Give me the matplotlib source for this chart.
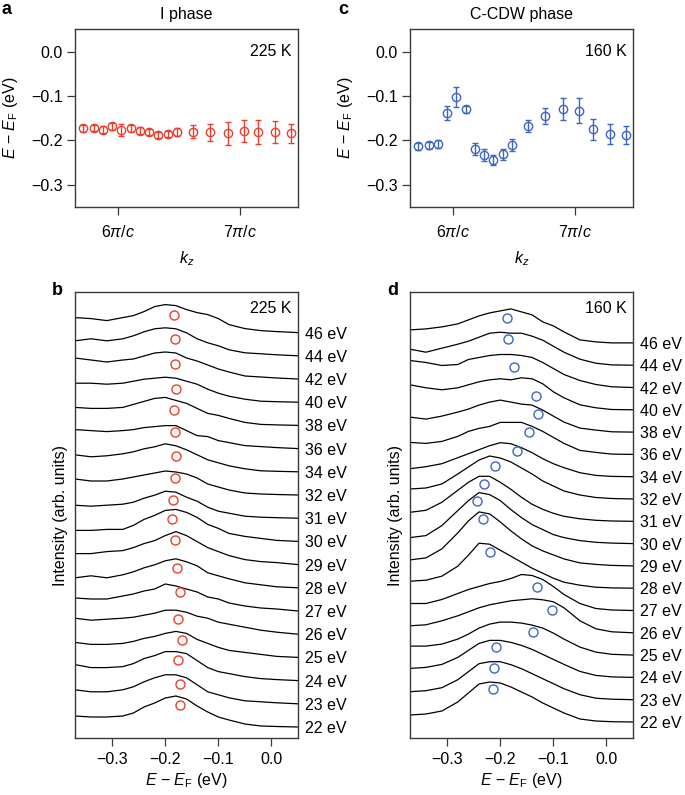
import numpy as np
import matplotlib
matplotlib.use('Agg')
import matplotlib.pyplot as plt
import matplotlib.transforms as mtransforms

plt.rcParams['font.family'] = ['Liberation Sans', 'DejaVu Sans']
plt.rcParams['mathtext.fontset'] = 'custom'
plt.rcParams['mathtext.rm'] = 'Liberation Sans'
plt.rcParams['mathtext.it'] = 'Liberation Sans:italic'
plt.rcParams['mathtext.bf'] = 'Liberation Sans:bold'
plt.rcParams['font.size'] = 11.5

# photon energies (eV), bottom curve first
energies = [22, 23, 24, 25, 26, 27, 28, 29, 30, 31, 32, 34, 36, 38, 40, 42, 44, 46]
# kz in units of pi/c
kz = [5.717, 5.801, 5.878, 5.956, 6.029, 6.108, 6.182, 6.258, 6.331,
      6.405, 6.481, 6.617, 6.755, 6.897, 7.028, 7.147, 7.283, 7.416]

# peak positions (eV) and errors, I phase 225 K
peak_I = [-0.173, -0.172, -0.176, -0.168, -0.176, -0.173, -0.178, -0.181, -0.187,
          -0.185, -0.181, -0.180, -0.182, -0.184, -0.179, -0.182, -0.181, -0.184]
err_I = [0.007, 0.007, 0.008, 0.008, 0.013, 0.008, 0.008, 0.006, 0.007,
         0.007, 0.010, 0.014, 0.020, 0.026, 0.024, 0.027, 0.024, 0.021]

# peak positions (eV) and errors, C-CDW phase 160 K
peak_C = [-0.213, -0.211, -0.208, -0.139, -0.102, -0.130, -0.219, -0.233, -0.244,
          -0.231, -0.210, -0.168, -0.145, -0.129, -0.133, -0.175, -0.185, -0.188]
err_C = [0.008, 0.008, 0.010, 0.016, 0.022, 0.008, 0.014, 0.014, 0.011,
         0.012, 0.014, 0.013, 0.018, 0.025, 0.028, 0.024, 0.022, 0.021]

# energy axis of the EDCs
E_grid = [-0.37, -0.34, -0.31, -0.28, -0.26, -0.24, -0.22, -0.20, -0.18,
          -0.16, -0.14, -0.12, -0.10, -0.08, -0.05, -0.02, 0.01, 0.05]

# EDC intensities (arb. units), 225 K, one row per photon energy
edc_I = [
    [11, 10, 10, 11, 14, 20, 24, 29, 31, 28, 21, 15, 10, 7, 3, 1, 0.5, 0],
    [14, 12, 12, 14, 17, 22, 26, 29, 29, 26, 19, 12, 9, 6, 3, 2, 1, 0],
    [16, 13, 13, 14, 17, 22, 25, 29, 29, 27, 20, 13, 9, 7, 4, 2, 1, 0],
    [15, 13, 13, 14, 16, 19, 21, 24, 26, 24, 18, 14, 10, 7, 5, 3, 1, 0],
    [16, 14, 15, 16, 17, 19, 21, 24, 24, 22, 18, 16, 12, 10, 7, 4, 2, 0],
    [13, 12, 12, 15, 17, 20, 22, 27, 25, 22, 19, 14, 12, 8, 5, 3, 2, 0],
    [10, 12, 10, 13, 16, 20, 23, 27, 29, 26, 22, 15, 12, 9, 5, 3, 1, 0],
    [11, 11, 13, 14, 17, 21, 24, 29, 33, 29, 23, 17, 13, 9, 5, 3, 2, 0],
    [11, 11, 12, 12, 16, 22, 26, 31, 32, 29, 24, 17, 13, 8, 5, 3, 1, 0],
    [13, 12, 13, 14, 16, 20, 23, 27, 26, 21, 17, 11, 7, 5, 2, 1, 0.5, 0],
    [16, 14, 14, 16, 18, 20, 22, 24, 23, 21, 17, 11, 8, 5, 2, 1, 0.5, 0],
    [17, 15, 16, 18, 20, 23, 25, 28, 26, 22, 17, 12, 9, 6, 3, 1, 0.5, 0],
    [19, 18, 17, 18, 19, 21, 22, 23, 23, 18, 13, 12, 8, 6, 3, 2, 1, 0],
    [18, 17, 17, 18, 21, 24, 27, 28, 25, 22, 17, 12, 10, 7, 3, 1, 0.5, 0],
    [19, 19, 18, 19, 21, 23, 24, 25, 24, 21, 18, 13, 9, 6, 3, 1, 0.5, 0],
    [21, 19, 17, 19, 20, 23, 26, 27, 26, 21, 18, 14, 10, 7, 3, 2, 1, 0],
    [15, 17, 15, 17, 20, 24, 27, 28, 27, 23, 17, 13, 10, 6, 3, 2, 1, 0],
    [15, 14, 12, 15, 17, 21, 26, 28, 27, 23, 20, 18, 14, 8, 4, 2, 1, 0],
]

# EDC intensities (arb. units), 160 K
edc_C = [
    [7, 8, 11, 20, 29, 38, 40, 39, 35, 30, 25, 19, 14, 9, 3, 1, 0.3, 0],
    [8, 9, 12, 20, 28, 36, 38, 38, 35, 31, 26, 21, 16, 11, 5, 1.5, 0.5, 0],
    [9, 10, 13, 20, 27, 34, 37, 37, 35, 32, 28, 23, 18, 13, 6, 2, 0.5, 0],
    [9, 9, 11, 16, 21, 27, 31, 33, 33, 32, 30, 27, 22, 16, 8, 3, 0.8, 0],
    [7, 8, 12, 17, 21, 25, 28, 30, 32, 33, 34, 33, 31, 25, 12, 4, 1, 0],
    [7, 7, 11, 17, 21, 24, 27, 29, 32, 36, 35, 31, 24, 16, 7, 2, 0.5, 0],
    [7, 8, 12, 22, 33, 45, 44, 38, 32, 26, 20, 15, 10, 6, 3, 1, 0.3, 0],
    [6, 8, 17, 33, 45, 54, 52, 44, 35, 27, 20, 15, 11, 7, 3, 1.5, 0.5, 0],
    [6, 8, 18, 33, 43, 51, 49, 43, 34, 26, 19, 14, 9, 6, 3, 1.3, 0.5, 0],
    [9, 11, 19, 31, 39, 45, 45, 39, 32, 24, 17, 12, 8, 5, 2.5, 1, 0.3, 0],
    [10, 11, 15, 25, 32, 39, 43, 41, 37, 31, 25, 18, 13, 8, 4, 1.5, 0.5, 0],
    [8, 10, 13, 19, 23, 27, 31, 34, 33, 29, 24, 18, 13, 9, 4, 1.3, 0.3, 0],
    [12, 11, 13, 18, 23, 26, 28, 32, 32, 32, 28, 23, 17, 11, 4, 2, 0.3, 0],
    [15, 13, 16, 20, 23, 27, 30, 32, 30, 28, 27, 22, 16, 10, 4, 2, 0.3, 0],
    [25, 22, 20, 22, 25, 28, 30, 31, 30, 32, 31, 26, 18, 12, 5, 2, 0.3, 0],
    [27, 25, 22, 23, 28, 30, 32, 33, 33, 32, 30, 25, 19, 13, 7, 3, 0.7, 0],
    [16, 13, 17, 21, 24, 28, 32, 33, 32, 32, 29, 25, 19, 13, 6, 2, 0.3, 0],
    [13, 14, 16, 19, 23, 27, 30, 32, 34, 31, 28, 21, 17, 11, 3, 1, 0, 0],
]

# height of the peak markers above each curve's baseline
mark_I = [22.3, 20.3, 20.3, 17, 15.3, 18.7, 19.7, 24.3, 22,
          18.3, 17.3, 16, 16.3, 15.7, 13.7, 15.3, 16.7, 17.7]
mark_C = [33.3, 32, 30.3, 23, 23.3, 23.3, 36.7, 46.7, 42.3,
          37, 32.7, 25.7, 22.3, 17.7, 13.7, 20.7, 26.3, 25]

red = '#e8402f'
blue = '#3d66c2'
spine_col = '#3a3a3a'
W, H = 685, 795


def px_axes(left, top, right, bottom):
    return fig.add_axes([left / W, 1 - bottom / H, (right - left) / W, (bottom - top) / H])


def style(ax, xpad):
    for s in ax.spines.values():
        s.set_color(spine_col)
        s.set_linewidth(1.0)
    ax.tick_params(direction='out', length=6, width=0.9, color=spine_col,
                   top=False, right=False, labelsize=11.5)
    ax.tick_params(axis='x', pad=xpad)
    ax.tick_params(axis='y', pad=3)


fig = plt.figure(figsize=(6.85, 7.95), dpi=100)

ax_a = px_axes(75, 29, 298, 207)
ax_c = px_axes(410, 29, 633, 207)
ax_b = px_axes(75, 292, 298, 738)
ax_d = px_axes(410, 292, 633, 738)

# top panels: peak position vs kz
for ax, peak, err, col, title, temp in [(ax_a, peak_I, err_I, red, 'I phase', '225 K'),
                                        (ax_c, peak_C, err_C, blue, 'C-CDW phase', '160 K')]:
    ax.errorbar(kz, peak, yerr=err, fmt='o', mfc='none', mec=col, ecolor=col,
                ms=6, mew=1.0, elinewidth=1.0, capsize=2.2, capthick=1.0)
    ax.set_xlim(5.65, 7.47)
    ax.set_ylim(-0.35, 0.051)
    ax.set_xticks([6, 7])
    ax.set_xticklabels([r'6$\pi/c$', r'7$\pi/c$'])
    ax.set_yticks([0.0, -0.1, -0.2, -0.3])
    ax.set_yticklabels(['0.0', '\u22120.1', '\u22120.2', '\u22120.3'])
    ax.set_xlabel(r'$k_z$', labelpad=7)
    ax.set_ylabel(r'$E$ $-$ $E_\mathrm{F}$ (eV)', labelpad=8)
    ax.set_title(title, fontsize=11.5, pad=7)
    ax.text(0.972, 0.872, temp, transform=ax.transAxes, ha='right', va='center', fontsize=11.5)
    style(ax, 6)

# bottom panels: stacked EDCs
for ax, edc, peak, mark, col, step, base, temp in [
        (ax_b, edc_I, peak_I, mark_I, red, 23.2, 11.0, '225 K'),
        (ax_d, edc_C, peak_C, mark_C, blue, 22.3, 16.0, '160 K')]:
    trans = mtransforms.blended_transform_factory(ax.transAxes, ax.transData)
    for i, h in enumerate(edc):
        off = i * step
        ax.plot(E_grid, np.array(h) + off, color='black', lw=0.9)
        ax.plot(peak[i], mark[i] + off, 'o', mfc='none', mec=col, ms=6.5, mew=1.0)
        ax.text(1.032, off - 1.5, '%d eV' % energies[i], transform=trans,
                ha='left', va='center', fontsize=11.5, clip_on=False)
    ax.set_xlim(-0.37, 0.05)
    ax.set_ylim(-base, 446 - base)
    ax.set_xticks([-0.3, -0.2, -0.1, 0.0])
    ax.set_xticklabels(['\u22120.3', '\u22120.2', '\u22120.1', '0.0'])
    ax.set_yticks([])
    ax.set_xlabel(r'$E$ $-$ $E_\mathrm{F}$ (eV)', labelpad=3)
    ax.set_ylabel('Intensity (arb. units)', labelpad=5)
    ax.text(0.97, 0.963, temp, transform=ax.transAxes, ha='right', va='center', fontsize=11.5)
    style(ax, 4)

# panel letters
for x, y, s in [(6, 9, 'a'), (343, 9, 'c'), (57, 291, 'b'), (393, 291, 'd')]:
    fig.text(x / W, 1 - y / H, s, fontsize=13, fontweight='bold', ha='center', va='center')

fig.savefig('out.png', dpi=100)
